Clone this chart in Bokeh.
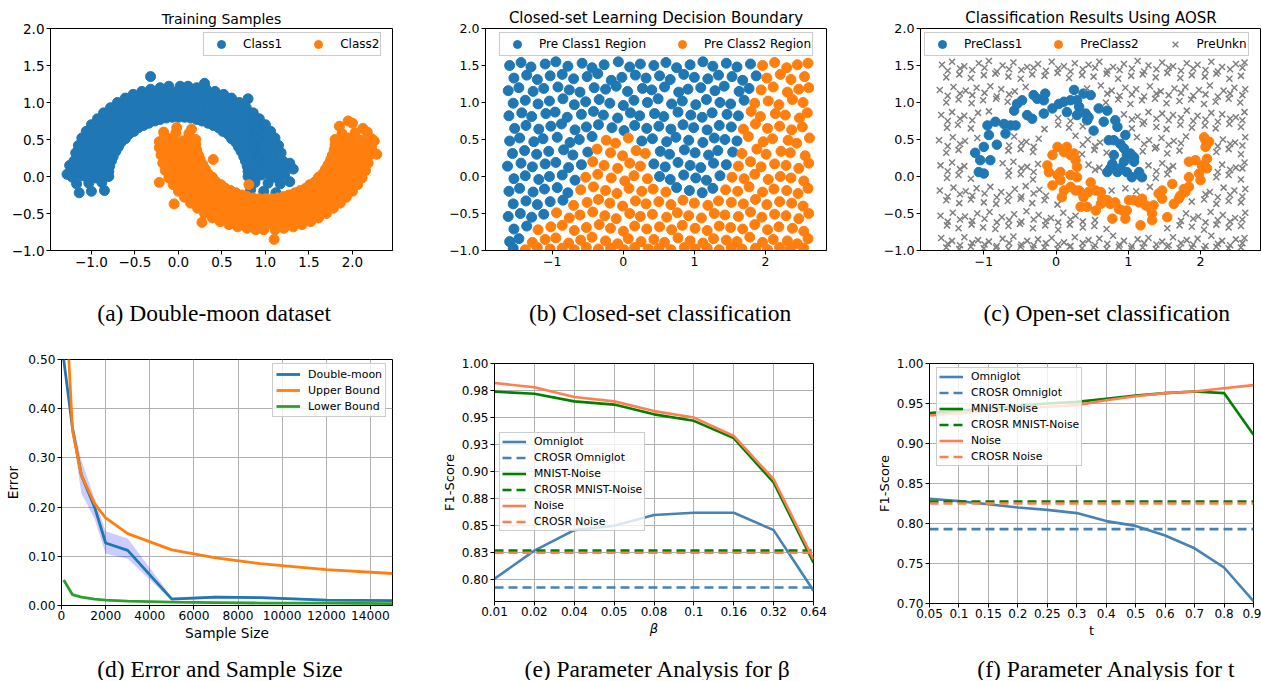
from bokeh.plotting import figure
from bokeh.layouts import row, column
from bokeh.models import Legend, FixedTicker, Range1d
from bokeh.embed import file_html
from bokeh.resources import INLINE
from bokeh.core.properties import value

BLUE = "#1f77b4"; ORANGE = "#ff7f0e"
STEEL = "#4682b4"; GREEN = "#008000"; CORAL = "#ff7f50"

# ---------------- (a) double moon training samples ----------------
MOON1 = [
(0.80,0.00),(0.95,0.02),(1.10,-0.01),(1.22,0.03),(0.79,0.14),(0.94,0.16),(1.08,0.19),(1.20,0.21),
(0.75,0.27),(0.89,0.33),(1.03,0.38),(1.15,0.42),(0.69,0.40),(0.82,0.47),(0.95,0.55),(1.06,0.61),
(0.61,0.51),(0.73,0.61),(0.84,0.71),(0.93,0.78),(0.51,0.61),(0.61,0.73),(0.71,0.84),(0.78,0.93),
(0.40,0.69),(0.47,0.82),(0.55,0.95),(0.61,1.06),(0.27,0.75),(0.32,0.89),(0.38,1.03),(0.42,1.15),
(0.14,0.79),(0.17,0.94),(0.19,1.08),(0.21,1.20),(0.00,0.80),(0.01,0.95),(-0.01,1.10),(0.02,1.22),
(-0.14,0.79),(-0.17,0.94),(-0.19,1.08),(-0.21,1.20),(-0.27,0.75),(-0.32,0.89),(-0.38,1.03),(-0.42,1.15),
(-0.40,0.69),(-0.47,0.82),(-0.55,0.95),(-0.61,1.06),(-0.51,0.61),(-0.61,0.73),(-0.71,0.84),(-0.78,0.93),
(-0.61,0.51),(-0.73,0.61),(-0.84,0.71),(-0.93,0.78),(-0.69,0.40),(-0.82,0.47),(-0.95,0.55),(-1.06,0.61),
(-0.75,0.27),(-0.89,0.33),(-1.03,0.38),(-1.15,0.42),(-0.79,0.14),(-0.94,0.16),(-1.08,0.19),(-1.20,0.21),
(-0.80,0.00),(-0.95,-0.02),(-1.10,0.01),(-1.22,-0.01),
(0.87,0.08),(1.02,0.09),(1.16,0.10),(0.84,0.22),(0.99,0.26),(1.12,0.30),(0.79,0.37),(0.92,0.43),(1.05,0.49),
(0.71,0.50),(0.84,0.59),(0.95,0.67),(0.62,0.62),(0.72,0.72),(0.82,0.82),(0.50,0.71),(0.59,0.84),(0.67,0.95),
(0.37,0.79),(0.43,0.92),(0.49,1.05),(0.22,0.84),(0.26,0.99),(0.30,1.12),(0.08,0.87),(0.09,1.02),(0.10,1.16),
(-0.08,0.87),(-0.09,1.02),(-0.10,1.16),(-0.22,0.84),(-0.26,0.99),(-0.30,1.12),(-0.37,0.79),(-0.43,0.92),(-0.49,1.05),
(-0.50,0.71),(-0.59,0.84),(-0.67,0.95),(-0.62,0.62),(-0.72,0.72),(-0.82,0.82),(-0.71,0.50),(-0.84,0.59),(-0.95,0.67),
(-0.79,0.37),(-0.92,0.43),(-1.05,0.49),(-0.84,0.22),(-0.99,0.26),(-1.12,0.30),(-0.87,0.08),(-1.02,0.09),(-1.16,0.10),
(0.88,-0.03),(1.03,0.04),(1.16,-0.04),(0.86,0.15),(1.01,0.18),(1.14,0.20),(0.82,0.30),(0.96,0.35),(1.09,0.40),
(0.76,0.44),(0.89,0.51),(1.00,0.58),(0.67,0.56),(0.79,0.66),(0.89,0.75),(0.56,0.67),(0.66,0.79),(0.75,0.89),
(0.44,0.76),(0.51,0.89),(0.58,1.00),(0.30,0.82),(0.35,0.96),(0.40,1.09),(0.15,0.86),(0.18,1.01),(0.20,1.14),
(0.01,0.88),(-0.01,1.03),(0.00,1.16),(-0.15,0.86),(-0.18,1.01),(-0.20,1.14),(-0.30,0.82),(-0.35,0.96),(-0.40,1.09),
(-0.44,0.76),(-0.51,0.89),(-0.58,1.00),(-0.56,0.67),(-0.66,0.79),(-0.75,0.89),(-0.67,0.56),(-0.79,0.66),(-0.89,0.75),
(-0.76,0.44),(-0.89,0.51),(-1.00,0.58),(-0.82,0.30),(-0.96,0.35),(-1.09,0.40),(-0.86,0.15),(-1.01,0.18),(-1.14,0.20),
(-0.88,0.03),(-1.03,-0.04),(-1.16,0.04),
(0.80,0.07),(0.95,0.08),(1.10,0.10),(1.22,0.11),(0.77,0.21),(0.92,0.25),(1.06,0.28),(1.18,0.32),
(0.72,0.34),(0.86,0.40),(1.00,0.46),(1.11,0.52),(0.66,0.46),(0.78,0.55),(0.90,0.63),(1.00,0.70),
(0.57,0.57),(0.67,0.67),(0.78,0.78),(0.86,0.86),(0.46,0.66),(0.55,0.78),(0.63,0.90),(0.70,1.00),
(0.34,0.72),(0.40,0.86),(0.46,1.00),(0.52,1.11),(0.21,0.77),(0.25,0.92),(0.28,1.06),(0.32,1.18),
(0.07,0.80),(0.08,0.95),(0.10,1.10),(0.11,1.22),(-0.07,0.80),(-0.08,0.95),(-0.10,1.10),(-0.11,1.22),
(-0.21,0.77),(-0.25,0.92),(-0.28,1.06),(-0.32,1.18),(-0.34,0.72),(-0.40,0.86),(-0.46,1.00),(-0.52,1.11),
(-0.46,0.66),(-0.55,0.78),(-0.63,0.90),(-0.70,1.00),(-0.57,0.57),(-0.67,0.67),(-0.78,0.78),(-0.86,0.86),
(-0.66,0.46),(-0.78,0.55),(-0.90,0.63),(-1.00,0.70),(-0.72,0.34),(-0.86,0.40),(-1.00,0.46),(-1.11,0.52),
(-0.77,0.21),(-0.92,0.25),(-1.06,0.28),(-1.18,0.32),(-0.80,0.07),(-0.95,0.08),(-1.10,0.10),(-1.22,0.11),
(0.88,-0.08),(1.03,-0.09),(1.17,-0.10),(0.83,-0.18),(0.98,-0.20),(1.12,-0.22),
(-0.88,-0.08),(-1.03,-0.09),(-1.17,-0.10),(-0.85,-0.19),(-1.00,-0.20),(-1.14,-0.22),
(-0.32,1.35),(1.28,0.18),(1.32,0.10),(1.28,-0.07),(-1.28,0.03),(0.80,1.05),(-1.25,0.15),(0.30,1.26),
]
MOON2 = [
(0.20,0.50),(0.05,0.48),(-0.10,0.51),(-0.22,0.47),(0.21,0.36),(0.06,0.34),(-0.08,0.31),(-0.20,0.29),
(0.25,0.23),(0.11,0.17),(-0.03,0.12),(-0.15,0.08),(0.31,0.10),(0.18,0.03),(0.05,-0.05),(-0.06,-0.11),
(0.39,-0.01),(0.27,-0.11),(0.16,-0.21),(0.07,-0.28),(0.49,-0.11),(0.39,-0.23),(0.29,-0.34),(0.22,-0.43),
(0.60,-0.19),(0.53,-0.32),(0.45,-0.45),(0.39,-0.56),(0.73,-0.25),(0.68,-0.39),(0.62,-0.53),(0.58,-0.65),
(0.86,-0.29),(0.83,-0.44),(0.81,-0.58),(0.79,-0.70),(1.00,-0.30),(0.99,-0.45),(1.01,-0.60),(0.98,-0.72),
(1.14,-0.29),(1.17,-0.44),(1.19,-0.58),(1.21,-0.70),(1.27,-0.25),(1.32,-0.39),(1.38,-0.53),(1.42,-0.65),
(1.40,-0.19),(1.47,-0.32),(1.55,-0.45),(1.61,-0.56),(1.51,-0.11),(1.61,-0.23),(1.71,-0.34),(1.78,-0.43),
(1.61,-0.01),(1.73,-0.11),(1.84,-0.21),(1.93,-0.28),(1.69,0.10),(1.82,0.03),(1.95,-0.05),(2.06,-0.11),
(1.75,0.23),(1.89,0.17),(2.03,0.12),(2.15,0.08),(1.79,0.36),(1.94,0.34),(2.08,0.31),(2.20,0.29),
(1.80,0.50),(1.95,0.52),(2.10,0.49),(2.22,0.51),
(0.13,0.42),(-0.02,0.41),(-0.16,0.40),(0.16,0.28),(0.01,0.24),(-0.12,0.20),(0.21,0.13),(0.08,0.07),(-0.05,0.01),
(0.29,0.00),(0.16,-0.09),(0.05,-0.17),(0.38,-0.12),(0.28,-0.22),(0.18,-0.32),(0.50,-0.21),(0.41,-0.34),(0.33,-0.45),
(0.63,-0.29),(0.57,-0.42),(0.51,-0.55),(0.78,-0.34),(0.74,-0.49),(0.70,-0.62),(0.92,-0.37),(0.91,-0.52),(0.90,-0.66),
(1.08,-0.37),(1.09,-0.52),(1.10,-0.66),(1.22,-0.34),(1.26,-0.49),(1.30,-0.62),(1.37,-0.29),(1.43,-0.42),(1.49,-0.55),
(1.50,-0.21),(1.59,-0.34),(1.67,-0.45),(1.62,-0.12),(1.72,-0.22),(1.82,-0.32),(1.71,0.00),(1.84,-0.09),(1.95,-0.17),
(1.79,0.13),(1.92,0.07),(2.05,0.01),(1.84,0.28),(1.99,0.24),(2.12,0.20),(1.87,0.42),(2.02,0.41),(2.16,0.40),
(0.12,0.53),(-0.03,0.46),(-0.16,0.54),(0.14,0.35),(-0.01,0.32),(-0.14,0.30),(0.18,0.20),(0.04,0.15),(-0.09,0.10),
(0.24,0.06),(0.11,-0.01),(0.00,-0.08),(0.33,-0.06),(0.21,-0.16),(0.11,-0.25),(0.44,-0.17),(0.34,-0.29),(0.25,-0.39),
(0.56,-0.26),(0.49,-0.39),(0.42,-0.50),(0.70,-0.32),(0.65,-0.46),(0.60,-0.59),(0.85,-0.36),(0.82,-0.51),(0.80,-0.64),
(0.99,-0.38),(1.01,-0.53),(1.00,-0.66),(1.15,-0.36),(1.18,-0.51),(1.20,-0.64),(1.30,-0.32),(1.35,-0.46),(1.40,-0.59),
(1.44,-0.26),(1.51,-0.39),(1.58,-0.50),(1.56,-0.17),(1.66,-0.29),(1.75,-0.39),(1.67,-0.06),(1.79,-0.16),(1.89,-0.25),
(1.76,0.06),(1.89,-0.01),(2.00,-0.08),(1.82,0.20),(1.96,0.15),(2.09,0.10),(1.86,0.35),(2.01,0.32),(2.14,0.30),
(1.88,0.47),(2.03,0.54),(2.16,0.46),
(0.20,0.43),(0.05,0.42),(-0.10,0.40),(-0.22,0.39),(0.23,0.29),(0.08,0.25),(-0.06,0.22),(-0.18,0.18),
(0.28,0.16),(0.14,0.10),(0.00,0.04),(-0.11,-0.02),(0.34,0.04),(0.22,-0.05),(0.10,-0.13),(0.00,-0.20),
(0.43,-0.07),(0.33,-0.17),(0.22,-0.28),(0.14,-0.36),(0.54,-0.16),(0.45,-0.28),(0.37,-0.40),(0.30,-0.50),
(0.66,-0.22),(0.60,-0.36),(0.54,-0.50),(0.48,-0.61),(0.79,-0.27),(0.75,-0.42),(0.72,-0.56),(0.68,-0.68),
(0.93,-0.30),(0.92,-0.45),(0.90,-0.60),(0.89,-0.72),(1.07,-0.30),(1.08,-0.45),(1.10,-0.60),(1.11,-0.72),
(1.21,-0.27),(1.25,-0.42),(1.28,-0.56),(1.32,-0.68),(1.34,-0.22),(1.40,-0.36),(1.46,-0.50),(1.52,-0.61),
(1.46,-0.16),(1.55,-0.28),(1.63,-0.40),(1.70,-0.50),(1.57,-0.07),(1.67,-0.17),(1.78,-0.28),(1.86,-0.36),
(1.66,0.04),(1.78,-0.05),(1.90,-0.13),(2.00,-0.20),(1.72,0.16),(1.86,0.10),(2.00,0.04),(2.11,-0.02),
(1.77,0.29),(1.92,0.25),(2.06,0.22),(2.18,0.18),(1.80,0.43),(1.95,0.42),(2.10,0.40),(2.22,0.39),
(0.12,0.58),(-0.03,0.59),(-0.17,0.60),(0.15,0.64),(-0.02,0.66),
(1.88,0.58),(2.03,0.59),(2.17,0.60),(1.85,0.68),(2.00,0.72),(2.12,0.65),
(2.28,0.30),(2.25,0.48),(-0.22,-0.08),(-0.05,-0.37),(0.27,-0.62),(1.10,-0.85),(1.95,0.75),(0.40,0.23),(0.81,-0.11),
]

# ---------------- (b) closed-set decision regions ----------------
REGION1 = [
(-1.60,1.50),(-1.44,1.54),(-1.30,1.48),(-1.10,1.52),(-0.95,1.55),(-0.78,1.49),(-0.58,1.53),(-0.44,1.47),(-0.27,1.51),(-0.07,1.55),(0.09,1.48),(0.24,1.52),(0.43,1.50),(0.60,1.54),(0.75,1.47),(0.94,1.51),(1.12,1.55),(1.26,1.49),(1.45,1.53),(1.60,1.48),(1.79,1.52),
(-1.54,1.33),(-1.36,1.37),(-1.21,1.31),(-1.03,1.36),(-0.86,1.38),(-0.70,1.32),(-0.51,1.35),(-0.36,1.39),(-0.17,1.30),(-0.02,1.34),(0.17,1.37),(0.32,1.33),(0.51,1.36),(0.66,1.31),(0.85,1.38),(1.00,1.34),(1.19,1.32),(1.34,1.37),(1.53,1.35),(1.68,1.30),(1.87,1.36),
(-1.62,1.16),(-1.47,1.20),(-1.27,1.15),(-1.12,1.19),(-0.92,1.21),(-0.76,1.17),(-0.61,1.14),(-0.41,1.20),(-0.25,1.18),(-0.10,1.22),(0.06,1.15),(0.27,1.19),(0.40,1.17),(0.58,1.21),(0.78,1.14),(0.91,1.18),(1.09,1.20),(1.29,1.16),(1.42,1.22),(1.63,1.15),(1.77,1.19),
(-1.55,0.99),(-1.38,1.03),(-1.20,0.98),(-1.04,1.02),(-0.85,1.05),(-0.69,0.97),(-0.53,1.01),(-0.34,1.04),(-0.19,0.99),(0.00,0.96),(0.15,1.03),(0.34,1.00),(0.49,1.05),(0.68,0.98),(0.83,1.02),(1.02,0.97),(1.17,1.04),(1.36,1.00),(1.51,0.98),(1.70,1.03),
(-1.61,0.82),(-1.43,0.86),(-1.29,0.81),(-1.09,0.85),(-0.96,0.87),(-0.79,0.80),(-0.59,0.84),(-0.42,0.88),(-0.28,0.83),(-0.08,0.79),(0.10,0.86),(0.23,0.82),(0.44,0.85),(0.57,0.81),(0.77,0.87),(0.95,0.83),(1.11,0.80),(1.25,0.86),(1.46,0.84),(1.62,0.82),
(-1.53,0.65),(-1.37,0.69),(-1.19,0.64),(-1.02,0.68),(-0.87,0.71),(-0.68,0.63),(-0.52,0.67),(-0.35,0.70),(-0.16,0.66),(0.01,0.62),(0.16,0.69),(0.33,0.65),(0.50,0.68),(0.67,0.64),(0.84,0.70),(0.99,0.66),(1.18,0.63),(1.35,0.69),(1.52,0.67),
(-1.60,0.48),(-1.46,0.52),(-1.26,0.47),(-1.13,0.51),(-0.93,0.53),(-0.75,0.46),(-0.62,0.50),(-0.44,0.54),(0.26,0.48),(0.41,0.51),(0.61,0.47),(0.74,0.53),(0.92,0.49),(1.12,0.46),(1.28,0.52),(1.43,0.50),(1.60,0.48),
(-1.56,0.31),(-1.39,0.35),(-1.22,0.30),(-1.05,0.34),(-0.84,0.36),(-0.71,0.29),(-0.50,0.33),(0.52,0.34),(0.65,0.30),(0.86,0.36),(1.01,0.32),(1.20,0.29),(1.33,0.35),(1.54,0.33),
(-1.63,0.14),(-1.44,0.18),(-1.28,0.13),(-1.10,0.17),(-0.95,0.19),(-0.77,0.12),(-0.59,0.16),(0.43,0.17),(0.59,0.13),(0.77,0.19),(0.94,0.15),(1.09,0.12),(1.27,0.18),(1.45,0.16),
(-1.54,-0.03),(-1.38,0.01),(-1.19,-0.04),(-1.04,0.00),(-0.86,0.02),(-0.68,-0.05),(0.51,0.00),(0.66,-0.04),(0.85,0.02),(1.02,-0.02),(1.17,-0.05),(1.36,0.01),
(-1.61,-0.20),(-1.46,-0.16),(-1.27,-0.21),(-1.11,-0.17),(-0.93,-0.15),(-0.78,-0.22),(0.75,-0.15),(0.93,-0.19),(1.11,-0.22),(1.26,-0.16),
(-1.55,-0.37),(-1.37,-0.33),(-1.21,-0.38),(-1.03,-0.34),(-0.85,-0.32),
(-1.62,-0.54),(-1.45,-0.50),(-1.29,-0.55),(-1.12,-0.51),
(-1.54,-0.71),(-1.36,-0.67),(-1.60,-0.88),(-1.47,-0.84),(-1.55,-0.97),
]
REGION2 = [
(1.96,1.50),(2.13,1.54),(2.30,1.47),(2.45,1.51),(2.60,1.53),
(2.02,1.33),(2.21,1.38),(2.36,1.31),(2.55,1.35),
(1.94,1.17),(2.11,1.21),(2.31,1.14),(2.47,1.18),(2.61,1.20),
(1.85,0.99),(2.04,1.02),(2.19,0.97),(2.38,1.04),(2.53,1.00),
(1.80,0.88),(1.93,0.81),(2.14,0.85),(2.28,0.83),(2.48,0.79),(2.59,0.86),
(1.69,0.64),(1.86,0.71),(2.03,0.65),(2.20,0.68),(2.37,0.63),(2.52,0.67),
(-0.24,0.49),(-0.11,0.45),(0.07,0.52),(1.76,0.54),(1.97,0.47),(2.10,0.51),(2.32,0.49),(2.44,0.45),(2.62,0.52),
(-0.37,0.37),(-0.18,0.32),(-0.01,0.28),(0.18,0.35),(0.31,0.31),(1.67,0.31),(1.88,0.37),(2.01,0.30),(2.22,0.34),(2.35,0.32),(2.56,0.28),
(-0.43,0.20),(-0.27,0.15),(-0.08,0.11),(0.09,0.18),(0.24,0.14),(1.62,0.14),(1.79,0.20),(1.94,0.13),(2.13,0.17),(2.29,0.15),(2.47,0.11),(2.61,0.18),
(-0.53,-0.01),(-0.36,0.03),(-0.17,-0.02),(0.02,-0.06),(0.15,0.01),(0.34,-0.03),(1.53,-0.01),(1.70,-0.03),(1.85,0.03),(2.04,-0.04),(2.21,0.00),(2.36,-0.02),(2.54,-0.06),
(-0.60,-0.18),(-0.42,-0.14),(-0.25,-0.19),(-0.09,-0.23),(0.08,-0.16),(0.26,-0.20),(0.42,-0.17),(0.60,-0.21),(1.44,-0.18),(1.61,-0.20),(1.77,-0.14),(1.96,-0.21),(2.12,-0.17),(2.30,-0.19),(2.46,-0.23),(2.60,-0.16),
(-0.70,-0.39),(-0.51,-0.35),(-0.35,-0.31),(-0.19,-0.36),(-0.01,-0.40),(0.17,-0.33),(0.32,-0.37),(0.50,-0.34),(0.67,-0.38),(0.84,-0.32),(1.00,-0.36),(1.19,-0.39),(1.34,-0.33),(1.52,-0.35),(1.69,-0.37),(1.86,-0.31),(2.02,-0.38),(2.20,-0.34),(2.37,-0.36),(2.53,-0.40),
(-0.94,-0.49),(-0.76,-0.56),(-0.61,-0.52),(-0.43,-0.48),(-0.26,-0.53),(-0.10,-0.57),(0.09,-0.50),(0.24,-0.54),(0.41,-0.51),(0.61,-0.55),(0.76,-0.49),(0.92,-0.53),(1.10,-0.56),(1.28,-0.50),(1.43,-0.52),(1.62,-0.54),(1.79,-0.48),(1.95,-0.55),(2.13,-0.51),(2.29,-0.53),(2.47,-0.57),(2.61,-0.50),
(-1.20,-0.72),(-1.02,-0.68),(-0.86,-0.66),(-0.69,-0.73),(-0.52,-0.69),(-0.34,-0.65),(-0.18,-0.70),(0.00,-0.74),(0.16,-0.67),(0.33,-0.71),(0.51,-0.68),(0.68,-0.72),(0.83,-0.66),(1.01,-0.70),(1.18,-0.73),(1.35,-0.67),(1.51,-0.69),(1.68,-0.71),(1.85,-0.65),(2.03,-0.72),(2.19,-0.68),(2.38,-0.70),(2.54,-0.74),
(-1.28,-0.89),(-1.10,-0.85),(-0.95,-0.83),(-0.77,-0.90),(-0.60,-0.86),(-0.44,-0.82),(-0.25,-0.87),(-0.08,-0.91),(0.07,-0.84),(0.25,-0.88),(0.43,-0.85),(0.58,-0.89),(0.77,-0.83),(0.94,-0.87),(1.12,-0.90),(1.27,-0.84),(1.45,-0.86),(1.60,-0.88),(1.78,-0.82),(1.96,-0.89),(2.11,-0.85),(2.31,-0.87),(2.45,-0.91),(2.60,-0.84),
(-1.38,-0.99),(-1.21,-0.96),(-1.03,-0.98),(-0.86,-0.97),(-0.69,-0.99),(-0.52,-0.96),(-0.35,-0.98),(-0.18,-0.97),(0.01,-0.99),(0.16,-0.96),(0.35,-0.98),(0.50,-0.97),(0.67,-0.99),(0.86,-0.96),(1.01,-0.98),(1.18,-0.97),(1.35,-0.99),(1.52,-0.96),(1.67,-0.98),(1.86,-0.97),(2.03,-0.99),(2.20,-0.96),(2.35,-0.98),(2.54,-0.97),
]

# ---------------- (c) open-set results ----------------
PRE1 = [
(-1.12,0.32),(-1.05,0.22),(-1.07,0.06),(-1.00,0.04),(-1.00,0.40),(-0.95,0.69),(-0.93,0.56),(-0.91,0.22),(-0.82,0.43),(-0.84,0.74),
(-0.72,0.71),(-0.70,0.58),(-0.63,0.69),(-0.56,0.69),(-0.58,0.89),(-0.54,0.98),(-0.47,1.03),(-0.40,0.83),(-0.33,0.78),(-0.31,1.10),
(-0.26,1.05),(-0.17,1.03),(-0.15,1.12),(-0.17,0.85),(-0.05,0.92),(0.04,0.98),(0.11,1.01),(0.15,0.87),(0.20,1.03),(0.25,1.17),
(0.29,1.03),(0.32,0.94),(0.29,0.83),(0.38,1.12),(0.41,0.85),(0.43,0.76),(0.48,1.10),(0.45,0.80),(0.52,0.62),(0.59,0.92),
(0.66,0.74),(0.71,0.89),(0.73,0.49),(0.80,0.49),(0.82,0.76),(0.85,0.67),(0.89,0.44),(0.94,0.38),(0.96,0.56),(0.98,0.29),
(1.03,0.31),(1.08,0.26),(0.94,0.20),(0.80,0.29),(0.78,0.17),(0.75,0.11),(0.85,0.06),(0.89,0.11),(0.98,0.06),(1.05,-0.01),
(1.08,0.20),(1.15,0.06),(1.19,-0.01),(0.71,0.06),
]
PRE2 = [
(-0.05,0.29),(-0.12,0.15),(-0.10,0.06),(-0.05,-0.12),(0.02,0.02),(0.06,0.06),(0.06,-0.05),(0.02,0.40),(0.15,0.40),(0.11,0.33),
(0.20,0.29),(0.25,0.31),(0.27,0.22),(0.29,0.13),(0.20,0.02),(0.29,-0.01),(0.20,-0.14),(0.11,-0.19),(0.08,-0.28),(0.27,-0.19),
(0.32,-0.19),(0.34,-0.41),(0.43,-0.41),(0.38,-0.28),(0.48,-0.08),(0.55,-0.46),(0.55,-0.19),(0.62,-0.21),(0.64,-0.30),(0.71,-0.32),
(0.75,-0.37),(0.78,-0.57),(0.82,-0.35),(0.87,-0.44),(0.92,-0.46),(0.96,-0.57),(0.98,-0.46),(1.01,-0.32),(1.08,-0.32),(1.15,-0.35),
(1.17,-0.66),(1.19,-0.30),(1.24,-0.39),(1.28,-0.41),(1.33,-0.50),(1.35,-0.39),(1.33,-0.59),(1.42,-0.23),(1.47,-0.19),(1.47,-0.30),
(1.54,-0.55),(1.61,-0.10),(1.63,-0.37),(1.70,-0.30),(1.72,-0.26),(1.77,-0.17),(1.79,-0.21),(1.84,-0.01),(1.84,-0.14),(1.84,0.20),
(1.93,0.22),(1.98,0.04),(2.00,-0.05),(2.02,0.15),(2.05,0.15),(2.09,0.24),(2.09,0.11),(2.07,0.49),(2.09,0.44),(2.12,0.47),
(2.07,0.40),(2.05,0.53),(0.62,-0.37),(0.45,-0.21),
]
UNKN = [
(-1.58,1.51),(-1.44,1.55),(-1.27,1.49),(-1.07,1.53),(-0.93,1.56),(-0.74,1.50),(-0.59,1.54),(-0.40,1.48),(-0.25,1.52),(-0.06,1.55),(0.11,1.49),(0.26,1.53),(0.45,1.51),(0.60,1.55),(0.79,1.48),(0.94,1.52),(1.13,1.56),(1.28,1.50),(1.47,1.54),(1.62,1.49),(1.81,1.53),(1.96,1.51),(2.15,1.55),(2.30,1.48),(2.49,1.52),(2.61,1.54),
(-1.50,1.43),(-1.33,1.46),(-1.16,1.44),(-0.99,1.47),(-0.82,1.42),(-0.65,1.45),(-0.48,1.44),(-0.31,1.47),(-0.14,1.43),(0.03,1.46),(0.20,1.42),(0.37,1.45),(0.54,1.47),(0.71,1.43),(0.88,1.44),(1.05,1.46),(1.22,1.42),(1.39,1.45),(1.56,1.47),(1.73,1.43),(1.90,1.46),(2.07,1.44),(2.24,1.42),(2.41,1.45),(2.58,1.47),
(-1.52,1.34),(-1.34,1.38),(-1.18,1.33),(-1.00,1.37),(-0.84,1.39),(-0.66,1.35),(-0.49,1.32),(-0.33,1.38),(-0.16,1.36),(0.02,1.40),(0.18,1.33),(0.36,1.37),(0.52,1.35),(0.70,1.39),(0.86,1.32),(1.04,1.36),(1.20,1.38),(1.38,1.34),(1.54,1.40),(1.72,1.33),(1.88,1.37),(2.06,1.35),(2.22,1.39),(2.40,1.32),(2.56,1.36),
(-1.61,1.17),(-1.42,1.21),(-1.25,1.16),(-1.10,1.20),(-0.91,1.22),(-0.76,1.18),(-0.57,1.15),(-0.42,1.21),(0.43,1.19),(0.62,1.23),(0.77,1.16),(0.96,1.20),(1.11,1.18),(1.30,1.22),(1.45,1.15),(1.64,1.19),(1.79,1.21),(1.98,1.17),(2.13,1.23),(2.32,1.16),(2.47,1.20),(2.62,1.18),
(-1.50,1.09),(-1.33,1.12),(-1.16,1.10),(-0.99,1.13),(-0.82,1.08),(-0.65,1.11),(0.71,1.12),(0.88,1.09),(1.05,1.11),(1.22,1.08),(1.39,1.12),(1.56,1.10),(1.73,1.13),(1.90,1.09),(2.07,1.11),(2.24,1.08),(2.41,1.12),(2.58,1.10),
(-1.52,1.00),(-1.35,1.04),(-1.17,0.99),(-1.01,1.03),(-0.83,1.05),(-0.67,1.01),(0.69,1.00),(0.86,1.04),(1.03,0.98),(1.19,1.03),(1.37,1.05),(1.53,0.99),(1.71,1.02),(1.87,1.04),(2.05,0.98),(2.21,1.01),(2.39,1.05),(2.55,1.00),
(-1.59,0.83),(-1.44,0.87),(-1.27,0.82),(-1.08,0.86),(-0.93,0.88),(0.94,0.84),(1.13,0.81),(1.28,0.87),(1.47,0.85),(1.62,0.83),(1.81,0.89),(1.96,0.82),(2.15,0.86),(2.30,0.84),(2.49,0.80),(2.61,0.87),
(-1.50,0.75),(-1.33,0.78),(-1.16,0.76),(0.03,0.79),(0.20,0.75),(1.05,0.77),(1.22,0.74),(1.39,0.78),(1.56,0.76),(1.73,0.79),(1.90,0.75),(2.07,0.77),(2.24,0.74),(2.41,0.78),(2.58,0.76),
(-1.51,0.66),(-1.36,0.70),(-1.18,0.65),(-0.16,0.64),(0.03,0.70),(0.18,0.66),(0.37,0.68),(1.05,0.65),(1.20,0.71),(1.39,0.67),(1.53,0.64),(1.72,0.70),(1.88,0.66),(2.06,0.69),(2.21,0.65),(2.40,0.71),(2.56,0.67),
(-1.62,0.49),(-1.43,0.53),(-1.26,0.48),(-1.09,0.52),(-0.58,0.54),(-0.41,0.47),(-0.24,0.51),(0.27,0.55),(0.44,0.50),(0.61,0.46),(1.12,0.53),(1.29,0.49),(1.46,0.52),(1.63,0.48),(1.80,0.54),(2.31,0.50),(2.48,0.46),(2.62,0.53),
(-1.50,0.41),(-1.33,0.44),(-0.65,0.42),(-0.48,0.45),(-0.31,0.40),(0.37,0.43),(0.54,0.41),(1.22,0.44),(1.39,0.40),(1.56,0.43),(1.73,0.45),(2.24,0.41),(2.41,0.44),(2.58,0.42),
(-1.52,0.32),(-1.35,0.36),(-0.66,0.35),(-0.49,0.37),(-0.32,0.33),(0.36,0.30),(0.53,0.36),(0.70,0.32),(1.20,0.34),(1.37,0.38),(1.54,0.31),(1.71,0.35),(2.22,0.33),(2.39,0.37),(2.56,0.30),
(-1.60,0.15),(-1.44,0.19),(-1.27,0.14),(-0.74,0.18),(-0.59,0.20),(-0.40,0.13),(-0.25,0.17),(0.45,0.16),(0.60,0.12),(1.28,0.15),(1.47,0.18),(1.62,0.14),(2.30,0.16),(2.49,0.12),(2.61,0.19),
(-1.50,0.07),(-1.33,0.10),(-0.65,0.08),(-0.48,0.11),(-0.31,0.06),(0.54,0.09),(1.39,0.07),(1.56,0.10),(2.24,0.06),(2.41,0.09),(2.58,0.11),
(-1.51,-0.02),(-1.35,0.02),(-1.18,-0.03),(-0.66,0.01),(-0.49,0.03),(-0.32,-0.04),(1.38,-0.02),(1.54,0.03),(2.22,-0.01),(2.39,0.02),(2.56,-0.04),
(-1.61,-0.19),(-1.42,-0.15),(-1.25,-0.20),(-1.10,-0.16),(-0.91,-0.14),(-0.76,-0.21),(-0.57,-0.17),(-0.42,-0.13),(-0.23,-0.18),(0.77,-0.19),(0.96,-0.16),(1.11,-0.20),(1.30,-0.14),(2.13,-0.21),(2.32,-0.15),(2.47,-0.19),(2.62,-0.17),
(-1.50,-0.27),(-1.33,-0.24),(-1.16,-0.26),(-0.99,-0.23),(-0.82,-0.28),(-0.65,-0.25),(-0.48,-0.27),(-0.31,-0.23),(-0.14,-0.26),(2.07,-0.24),(2.24,-0.28),(2.41,-0.25),(2.58,-0.27),
(-1.52,-0.32),(-1.34,-0.36),(-1.18,-0.31),(-1.00,-0.35),(-0.83,-0.37),(-0.67,-0.33),(-0.49,-0.30),(-0.33,-0.36),(-0.16,-0.32),(0.02,-0.38),(1.88,-0.34),(2.05,-0.31),(2.22,-0.37),(2.39,-0.33),(2.56,-0.35),
(-1.60,-0.53),(-1.43,-0.49),(-1.26,-0.54),(-1.09,-0.50),(-0.92,-0.48),(-0.75,-0.55),(-0.58,-0.51),(-0.41,-0.47),(-0.24,-0.52),(-0.07,-0.56),(0.10,-0.49),(0.27,-0.53),(1.80,-0.50),(1.97,-0.54),(2.14,-0.48),(2.31,-0.52),(2.48,-0.56),(2.62,-0.49),
(-1.50,-0.61),(-1.33,-0.58),(-1.16,-0.60),(-0.99,-0.57),(-0.82,-0.62),(-0.65,-0.59),(-0.48,-0.61),(-0.31,-0.58),(-0.14,-0.60),(0.03,-0.62),(0.20,-0.58),(0.37,-0.61),(0.54,-0.59),(1.73,-0.60),(1.90,-0.57),(2.07,-0.62),(2.24,-0.59),(2.41,-0.61),(2.58,-0.58),
(-1.51,-0.66),(-1.35,-0.70),(-1.17,-0.65),(-1.01,-0.69),(-0.84,-0.71),(-0.66,-0.67),(-0.50,-0.64),(-0.32,-0.70),(-0.15,-0.66),(0.03,-0.72),(0.19,-0.65),(0.37,-0.69),(0.53,-0.67),(0.70,-0.71),(1.54,-0.70),(1.71,-0.66),(1.88,-0.68),(2.05,-0.72),(2.22,-0.65),(2.39,-0.69),(2.56,-0.67),
(-1.59,-0.83),(-1.44,-0.87),(-1.27,-0.82),(-1.08,-0.86),(-0.93,-0.88),(-0.74,-0.84),(-0.59,-0.81),(-0.40,-0.87),(-0.25,-0.85),(-0.06,-0.83),(0.11,-0.89),(0.26,-0.82),(0.45,-0.86),(0.60,-0.84),(0.79,-0.80),(0.94,-0.87),(1.13,-0.85),(1.28,-0.83),(1.47,-0.88),(1.62,-0.82),(1.81,-0.86),(1.96,-0.84),(2.15,-0.80),(2.30,-0.87),(2.49,-0.85),(2.61,-0.83),
(-1.50,-0.91),(-1.33,-0.93),(-1.16,-0.90),(-0.99,-0.92),(-0.82,-0.94),(-0.65,-0.90),(-0.48,-0.92),(-0.31,-0.93),(-0.14,-0.90),(0.03,-0.92),(0.20,-0.94),(0.37,-0.90),(0.54,-0.93),(0.71,-0.91),(0.88,-0.92),(1.05,-0.94),(1.22,-0.90),(1.39,-0.92),(1.56,-0.93),(1.73,-0.90),(1.90,-0.92),(2.07,-0.94),(2.24,-0.91),(2.41,-0.93),(2.58,-0.90),
(-1.52,-0.96),(-1.34,-0.98),(-1.18,-0.95),(-1.00,-0.97),(-0.83,-0.96),(-0.66,-0.98),(-0.49,-0.95),(-0.32,-0.97),(-0.16,-0.96),(0.02,-0.98),(0.19,-0.95),(0.36,-0.97),(0.52,-0.96),(0.70,-0.98),(0.87,-0.95),(1.04,-0.97),(1.20,-0.96),(1.38,-0.98),(1.54,-0.95),(1.71,-0.97),(1.88,-0.96),(2.05,-0.98),(2.22,-0.95),(2.39,-0.97),(2.56,-0.96),
]

TOP_TICKS = [-1.0, -0.5, 0.0, 0.5, 1.0, 1.5, 2.0]
TOP_LABELS = ["\u22121.0", "\u22120.5", "0.0", "0.5", "1.0", "1.5", "2.0"]
INT_TICKS = [-1, 0, 1, 2]
INT_LABELS = ["\u22121", "0", "1", "2"]

# ---------------- (d) error vs sample size ----------------
D_X = [100, 500, 900, 1500, 2000, 3000, 5000, 7000, 9000, 12000, 15000]
D_MOON = [0.500, 0.360, 0.265, 0.200, 0.127, 0.112, 0.013, 0.017, 0.016, 0.011, 0.010]
D_LOW = [0.490, 0.350, 0.228, 0.176, 0.105, 0.095, 0.010, 0.014, 0.013, 0.009, 0.008]
D_HIGH = [0.510, 0.372, 0.295, 0.217, 0.151, 0.136, 0.017, 0.020, 0.019, 0.013, 0.012]
D_UPPER = [0.700, 0.355, 0.265, 0.207, 0.178, 0.146, 0.113, 0.097, 0.085, 0.073, 0.065]
D_LOWER = [0.052, 0.022, 0.017, 0.013, 0.011, 0.009, 0.007, 0.006, 0.005, 0.005, 0.004]
D_XTICKS = [0, 2000, 4000, 6000, 8000, 10000, 12000, 14000]
D_YTICKS = [0.0, 0.1, 0.2, 0.3, 0.4, 0.5]
D_YLABELS = ["0.00", "0.10", "0.20", "0.30", "0.40", "0.50"]

# ---------------- (e) beta ----------------
BETA = ["0.01", "0.02", "0.04", "0.05", "0.08", "0.1", "0.16", "0.32", "0.64"]
E_OMNI = [0.801, 0.827, 0.846, 0.850, 0.860, 0.862, 0.862, 0.846, 0.790]
E_MNIST = [0.974, 0.972, 0.965, 0.962, 0.953, 0.947, 0.931, 0.890, 0.816]
E_NOISE = [0.982, 0.978, 0.969, 0.965, 0.956, 0.950, 0.933, 0.893, 0.819]
E_CROSR = {"Omniglot": 0.793, "MNIST-Noise": 0.827, "Noise": 0.825}
E_YTICKS = [0.8, 0.825, 0.85, 0.875, 0.9, 0.925, 0.95, 0.975, 1.0]
E_YLABELS = ["0.80", "0.83", "0.85", "0.88", "0.90", "0.93", "0.95", "0.98", "1.00"]

# ---------------- (f) t ----------------
T_VALS = ["0.05", "0.1", "0.15", "0.2", "0.25", "0.3", "0.4", "0.5", "0.6", "0.7", "0.8", "0.9"]
F_OMNI = [0.831, 0.828, 0.824, 0.820, 0.817, 0.813, 0.803, 0.797, 0.785, 0.769, 0.745, 0.703]
F_MNIST = [0.938, 0.941, 0.944, 0.947, 0.950, 0.952, 0.956, 0.960, 0.963, 0.965, 0.963, 0.911]
F_NOISE = [0.935, 0.938, 0.941, 0.944, 0.946, 0.948, 0.954, 0.959, 0.963, 0.965, 0.969, 0.973]
F_CROSR = {"Omniglot": 0.793, "MNIST-Noise": 0.8275, "Noise": 0.825}
F_YTICKS = [0.7, 0.75, 0.8, 0.85, 0.9, 0.95, 1.0]
F_YLABELS = ["0.70", "0.75", "0.80", "0.85", "0.90", "0.95", "1.00"]

CAPTIONS = ["(a) Double-moon dataset", "(b) Closed-set classification", "(c) Open-set classification",
            "(d) Error and Sample Size", "(e) Parameter Analysis for \u03b2", "(f) Parameter Analysis for t"]


def xs(pts):
    return [p[0] for p in pts]


def ys(pts):
    return [p[1] for p in pts]


def make_fig(w, h, xr, yr, l, r, t, b, tick_px, title=None, title_px="14px", grid=False,
             tick_out=4, tick_std=2, lab_std=2, label_px="13.5px"):
    p = figure(width=w, height=h, x_range=Range1d(*xr), y_range=Range1d(*yr),
               output_backend="svg", toolbar_location=None,
               min_border_left=l, min_border_right=r, min_border_top=t, min_border_bottom=b)
    p.outline_line_color = "black"
    p.outline_line_width = 1
    p.outline_line_alpha = 1
    p.background_fill_color = "white"
    p.border_fill_color = "white"
    for ax in p.axis:
        ax.axis_line_color = "black"
        ax.major_tick_line_color = "black"
        ax.major_tick_out = tick_out
        ax.major_tick_in = 0
        ax.minor_tick_line_color = None
        ax.major_label_text_font = "DejaVu Sans"
        ax.major_label_text_font_size = tick_px
        ax.major_label_text_color = "black"
        ax.major_label_standoff = tick_std
        ax.axis_label_text_font = "DejaVu Sans"
        ax.axis_label_text_font_size = label_px
        ax.axis_label_text_font_style = "normal"
        ax.axis_label_text_color = "black"
        ax.axis_label_standoff = lab_std
    if grid:
        p.grid.grid_line_color = "#b0b0b0"
        p.grid.grid_line_width = 1
    else:
        p.grid.visible = False
    if title:
        p.title.text = title
        p.title.align = "center"
        p.title.text_font = "DejaVu Sans"
        p.title.text_font_size = title_px
        p.title.text_font_style = "normal"
        p.title.text_color = "black"
        p.title.standoff = 3
    return p


def set_ticks(axis, ticks, labels):
    axis.ticker = FixedTicker(ticks=list(ticks))
    axis.major_label_overrides = {k: s for k, s in zip(ticks, labels)}


def legend(items, loc, orient, font_px, gw, gh, lh, std, spacing, pad):
    return Legend(items=items, location=loc, orientation=orient,
                  label_text_font="DejaVu Sans", label_text_font_size=font_px,
                  label_text_color="black",
                  glyph_width=gw, glyph_height=gh, label_height=lh, label_standoff=std,
                  spacing=spacing, padding=pad, margin=0,
                  border_line_color="#cccccc", border_line_width=1, border_line_alpha=1,
                  background_fill_color="white", background_fill_alpha=0.8)


def caption(w, h, text, cx, cy):
    c = figure(width=w, height=h, x_range=Range1d(0, w), y_range=Range1d(0, h),
               output_backend="svg", toolbar_location=None,
               x_axis_type=None, y_axis_type=None, min_border=0)
    c.outline_line_color = None
    c.background_fill_color = "white"
    c.border_fill_color = "white"
    c.text(x=[cx], y=[cy], text=[text], text_font=value("Liberation Serif"),
           text_font_size=value("23.5px"), text_align="center", text_baseline="middle",
           text_color="black")
    return c


# ---- (a)
pa = make_fig(420, 295, (-1.47, 2.46), (-1.0, 2.0), 50, 28, 28, 45, "13.5px",
              title="Training Samples", title_px="14px")
set_ticks(pa.xaxis[0], TOP_TICKS, TOP_LABELS)
set_ticks(pa.yaxis[0], TOP_TICKS, TOP_LABELS)
ra1 = pa.scatter(xs(MOON1), ys(MOON1), size=10, fill_color=BLUE, line_color=BLUE)
ra2 = pa.scatter(xs(MOON2), ys(MOON2), size=10, fill_color=ORANGE, line_color=ORANGE)
pa.add_layout(legend([("Class1", [ra1]), ("Class2", [ra2])], (153, 194), "horizontal",
                     "12px", 32, 20, 20, 6, 20, 1))

# ---- (b)
pb = make_fig(420, 295, (-1.94, 2.86), (-1.0, 2.0), 65, 14, 28, 45, "12.5px",
              title="Closed-set Learning Decision Boundary", title_px="15px")
set_ticks(pb.xaxis[0], INT_TICKS, INT_LABELS)
set_ticks(pb.yaxis[0], TOP_TICKS, TOP_LABELS)
rb1 = pb.scatter(xs(REGION1), ys(REGION1), size=10, fill_color=BLUE, line_color=BLUE)
rb2 = pb.scatter(xs(REGION2), ys(REGION2), size=10, fill_color=ORANGE, line_color=ORANGE)
pb.add_layout(legend([("Pre Class1 Region", [rb1]), ("Pre Class2 Region", [rb2])], (14, 194),
                     "horizontal", "12px", 32, 20, 20, 6, 20, 1))

# ---- (c)
pc = make_fig(421, 295, (-1.877, 2.845), (-1.0, 2.0), 80, 0, 28, 45, "12.7px",
              title="Classification Results Using AOSR", title_px="15px")
set_ticks(pc.xaxis[0], INT_TICKS, INT_LABELS)
set_ticks(pc.yaxis[0], TOP_TICKS, TOP_LABELS)
rc1 = pc.scatter(xs(PRE1), ys(PRE1), size=9.5, fill_color=BLUE, line_color=BLUE)
rc2 = pc.scatter(xs(PRE2), ys(PRE2), size=9.5, fill_color=ORANGE, line_color=ORANGE)
rc3 = pc.scatter(xs(UNKN), ys(UNKN), marker="x", size=8.5, line_color="gray", line_width=1.5)
pc.add_layout(legend([("PreClass1", [rc1]), ("PreClass2", [rc2]), ("PreUnkn", [rc3])], (4, 194),
                     "horizontal", "12px", 32, 20, 20, 6, 20, 1))

# ---- (d)
pd_ = make_fig(420, 317, (0, 15000), (0, 0.5), 61, 28, 26, 45, "12.2px", grid=True,
               tick_out=4, tick_std=1, lab_std=2, label_px="13.7px")
pd_.yaxis[0].major_label_standoff = 2
pd_.yaxis[0].axis_label_standoff = 4
set_ticks(pd_.xaxis[0], D_XTICKS, [str(v) for v in D_XTICKS])
set_ticks(pd_.yaxis[0], D_YTICKS, D_YLABELS)
pd_.xaxis[0].axis_label = "Sample Size"
pd_.yaxis[0].axis_label = "Error"
pd_.varea(x=D_X, y1=D_LOW, y2=D_HIGH, fill_color="blue", fill_alpha=0.2)
rd1 = pd_.line(D_X, D_MOON, line_color=BLUE, line_width=2.8)
rd2 = pd_.line(D_X, D_UPPER, line_color=ORANGE, line_width=2.8)
rd3 = pd_.line(D_X, D_LOWER, line_color="#2ca02c", line_width=2.8)
pd_.add_layout(legend([("Double-moon", [rd1]), ("Upper Bound", [rd2]), ("Lower Bound", [rd3])],
                      (211, 188), "vertical", "11px", 24, 14, 14, 8, 2, 3))


def param_fig(w, l, r, b, labels, yr, yticks, ylabels, omni, mnist, noise, crosr, xlabel, loc, italic=False):
    p = make_fig(w, 317, (0, len(labels) - 1), yr, l, r, 30, b, "12px", grid=True,
                 tick_out=4, tick_std=1, lab_std=2, label_px="13px")
    p.yaxis[0].major_label_standoff = 2
    p.yaxis[0].axis_label_standoff = 2
    idx = list(range(len(labels)))
    set_ticks(p.xaxis[0], idx, labels)
    set_ticks(p.yaxis[0], yticks, ylabels)
    p.xaxis[0].axis_label = xlabel
    if italic:
        p.xaxis[0].axis_label_text_font_style = "italic"
    p.yaxis[0].axis_label = "F1-Score"
    ends = [idx[0], idx[-1]]
    items = []
    for name, series, col in (("Omniglot", omni, STEEL), ("MNIST-Noise", mnist, GREEN), ("Noise", noise, CORAL)):
        r1 = p.line(idx, series, line_color=col, line_width=2.6)
        r2 = p.line(ends, [crosr[name]] * 2, line_color=col, line_width=2.6, line_dash="9 5")
        items.append((name, [r1]))
        items.append(("CROSR " + name, [r2]))
    p.add_layout(legend(items, loc, "vertical", "10.8px", 24, 13, 13, 8, 3, 2))
    return p


pe = param_fig(420, 74, 27, 49, BETA, (0.78, 1.0), E_YTICKS, E_YLABELS, E_OMNI, E_MNIST, E_NOISE, E_CROSR,
               "\u03b2", (5, 70), italic=True)
pf = param_fig(421, 89, 8, 47, T_VALS, (0.70, 1.0), F_YTICKS, F_YLABELS, F_OMNI, F_MNIST, F_NOISE, F_CROSR,
               "t", (7, 137))

caps_top = [caption(420, 38, CAPTIONS[0], 201, 21), caption(420, 38, CAPTIONS[1], 215, 21),
            caption(421, 38, CAPTIONS[2], 230, 21)]
caps_bot = [caption(420, 30, CAPTIONS[3], 201, 12), caption(420, 30, CAPTIONS[4], 215, 12),
            caption(421, 30, CAPTIONS[5], 230, 12)]

top = row(column(pa, caps_top[0]), column(pb, caps_top[1]), column(pc, caps_top[2]))
bot = row(column(pd_, caps_bot[0]), column(pe, caps_bot[1]), column(pf, caps_bot[2]))
layout = column(top, bot)

open("out.html", "w").write(file_html(layout, INLINE))
